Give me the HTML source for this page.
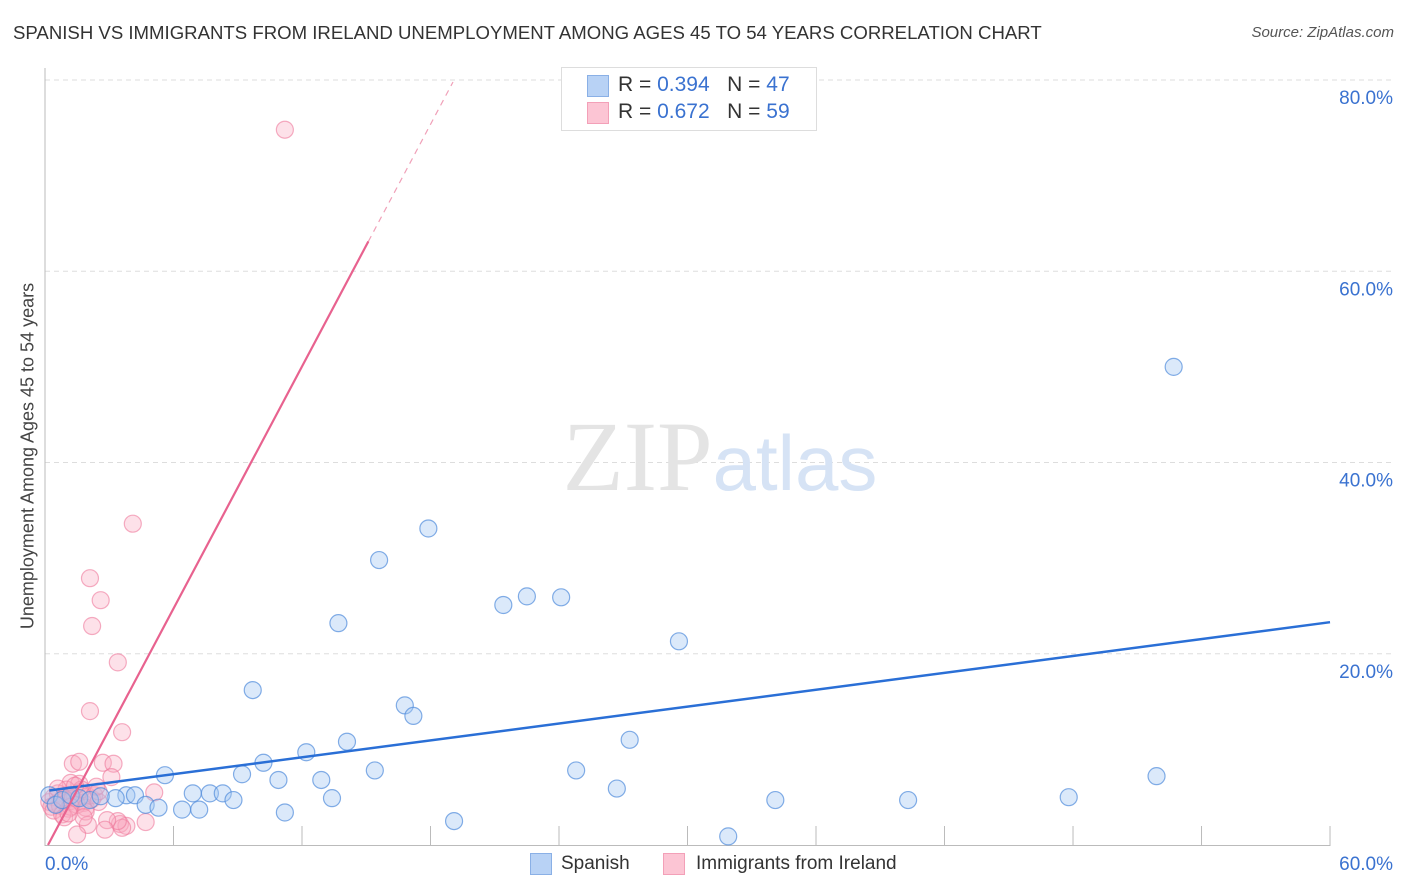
<!DOCTYPE html>
<html><head><meta charset="utf-8"><style>
body{margin:0;background:#fff;font-family:"Liberation Sans",sans-serif;}
#wrap{position:relative;width:1406px;height:892px;overflow:hidden}
.t{position:absolute;white-space:nowrap}
</style></head><body>
<div id="wrap">
<div class="t" style="left:13px;top:22px;font-size:18.6px;color:#333">SPANISH VS IMMIGRANTS FROM IRELAND UNEMPLOYMENT AMONG AGES 45 TO 54 YEARS CORRELATION CHART</div>
<div class="t" style="right:12px;top:24px;font-size:15px;color:#555;font-style:italic">Source: ZipAtlas.com</div>
<div class="t" style="left:28px;top:456px;font-size:18px;color:#444;transform:translate(-50%,-50%) rotate(-90deg)">Unemployment Among Ages 45 to 54 years</div>
<svg id="svg" width="1406" height="892" style="position:absolute;left:0;top:0"></svg>
<div class="t" style="left:561px;top:67px;width:254px;height:62px;border:1px solid #ddd;background:#fff"></div>
<div class="t" style="left:587px;top:75px;width:20px;height:20px;background:#b8d2f5;border:1px solid #8ab0e6"></div>
<div class="t" style="left:587px;top:102px;width:20px;height:20px;background:#fcc5d4;border:1px solid #f3a0b8"></div>
<div class="t" style="left:618px;top:73px;font-size:21px;color:#333">R = <span style="color:#3a72d0">0.394</span>&nbsp;&nbsp;&nbsp;N = <span style="color:#3a72d0">47</span></div>
<div class="t" style="left:618px;top:100px;font-size:21px;color:#333">R = <span style="color:#3a72d0">0.672</span>&nbsp;&nbsp;&nbsp;N = <span style="color:#3a72d0">59</span></div>
<div class="t" style="left:530px;top:853px;width:20px;height:20px;background:#b8d2f5;border:1px solid #8ab0e6"></div>
<div class="t" style="left:561px;top:853px;font-size:19px;color:#333">Spanish</div>
<div class="t" style="left:663px;top:853px;width:20px;height:20px;background:#fcc5d4;border:1px solid #f3a0b8"></div>
<div class="t" style="left:696px;top:853px;font-size:19px;color:#333">Immigrants from Ireland</div>
</div>
<script>
const xTicks=[0,60];
const yTicks=[20,40,60,80];
const blueX=[52.7,17.9,15.6,22.5,24.1,21.4,13.7,29.6,9.7,16.8,17.2,27.3,14.1,12.2,10.2,15.4,24.8,51.9,5.6,9.2,10.9,12.9,26.7,6.9,7.7,8.3,3.8,4.2,8.8,13.4,47.8,34.1,40.3,3.3,4.7,5.3,6.4,7.2,11.2,19.1,31.9,0.2,0.5,0.8,1.2,1.6,2.1,2.6];
const blueY=[50.0,33.1,29.8,26.0,25.9,25.1,23.2,21.3,16.2,14.6,13.5,11.0,10.8,9.7,8.6,7.8,7.8,7.2,7.3,7.4,6.8,6.8,5.9,5.4,5.4,5.4,5.2,5.2,4.7,4.9,5.0,4.7,4.7,4.9,4.2,3.9,3.7,3.7,3.4,2.5,0.9,5.2,4.2,4.7,5.2,4.9,4.7,5.1];
const pinkX=[11.2,4.1,2.1,2.6,2.2,3.4,2.1,3.6,1.3,1.6,2.7,3.2,3.1,1.2,1.6,1.0,5.1,0.2,0.4,0.6,0.8,1.0,1.2,1.4,1.6,1.8,2.0,2.2,0.3,0.5,0.7,0.9,1.1,1.3,1.5,1.7,1.9,2.3,2.5,0.4,0.8,1.2,1.9,2.5,0.9,3.5,3.8,3.6,3.4,2.9,2.0,1.5,4.7,2.8,1.4,0.6,1.8,1.1,2.4];
const pinkY=[74.8,33.6,27.9,25.6,22.9,19.1,14.0,11.8,8.5,8.7,8.6,8.5,7.1,6.5,6.4,5.8,5.5,4.5,5.0,5.4,4.8,5.2,4.6,5.0,5.5,4.4,5.1,4.8,4.0,4.3,4.1,4.6,3.8,4.9,4.2,5.8,3.9,5.2,4.5,3.6,3.2,4.0,3.5,5.6,2.9,2.2,2.0,1.8,2.5,2.6,2.1,1.1,2.4,1.6,6.2,5.9,2.9,3.3,6.1];
const svg=document.getElementById('svg');const NS='http://www.w3.org/2000/svg';
const X=v=>45+v*21.417, Y=v=>845-v*9.5625;
function mk(tag,a){const e=document.createElementNS(NS,tag);for(const k in a)e.setAttribute(k,a[k]);svg.appendChild(e);return e;}
yTicks.forEach(t=>{const l=mk('line',{x1:45,x2:1392,y1:Y(t),y2:Y(t),stroke:'#ddd','stroke-dasharray':'5,4'});


const tx=mk('text',{x:1393,y:Y(t)+24,'text-anchor':'end','font-size':19,fill:'#3a72d0','font-family':'Liberation Sans'});tx.textContent=t.toFixed(1)+'%';

});
const ax=mk('line',{x1:45,x2:45,y1:68,y2:846,stroke:'#bbb'});


const bx=mk('line',{x1:45,x2:1330,y1:845.5,y2:845.5,stroke:'#bbb'});


for(let i=1;i<=10;i++){const l=mk('line',{x1:X(i*6),x2:X(i*6),y1:826,y2:846,stroke:'#bbb'});

}
xTicks.forEach((t,i)=>{const tx=mk('text',{x:i?1393:45,y:870,'text-anchor':i?'end':'start','font-size':19,fill:'#3a72d0','font-family':'Liberation Sans'});tx.textContent=t.toFixed(1)+'%';

});
const wm=mk('text',{x:720,y:490,'text-anchor':'middle','font-size':100,fill:'#e4e4e4','font-family':'Liberation Serif'});wm.innerHTML='ZIP<tspan fill="#d6e3f5" font-family="Liberation Sans" font-size="78">atlas</tspan>';


pinkX.forEach((x,i)=>{const c=mk('circle',{cx:X(x),cy:Y(pinkY[i]),r:8.5,fill:'rgba(248,170,192,0.35)',stroke:'rgba(238,120,155,0.6)','stroke-width':1.2});

});
blueX.forEach((x,i)=>{const c=mk('circle',{cx:X(x),cy:Y(blueY[i]),r:8.5,fill:'rgba(165,200,242,0.4)',stroke:'rgba(80,140,220,0.7)','stroke-width':1.2});

});
const bl=mk('line',{x1:X(0.2),y1:Y(5.7),x2:X(60),y2:Y(23.3),stroke:'#2a6fd6','stroke-width':2.5});


const pf=x=>-0.6+4.22*x;
const pl=mk('line',{x1:X(0.14),y1:Y(0),x2:X(15.1),y2:Y(pf(15.1)),stroke:'#e8628f','stroke-width':2.2});


const pd=mk('line',{x1:X(15.1),y1:Y(pf(15.1)),x2:X(19.05),y2:Y(pf(19.05)),stroke:'#f0a0b8','stroke-width':1.2,'stroke-dasharray':'6,5'});


</script>
</body></html>
